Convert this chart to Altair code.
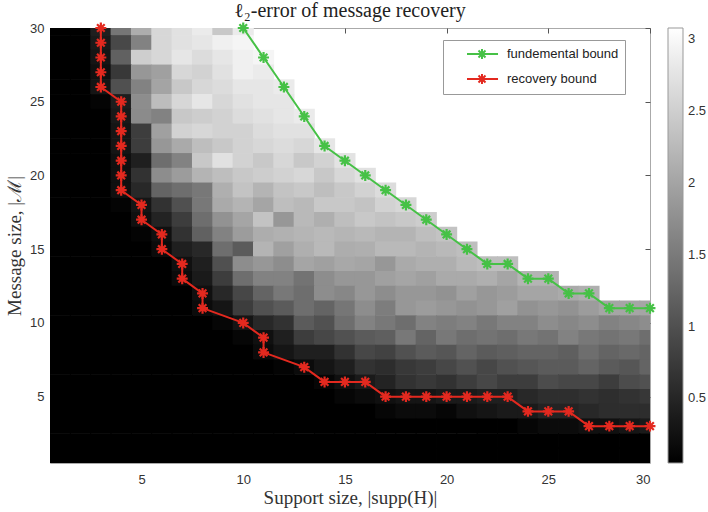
import altair as alt
import pandas as pd

# ---------------- data ----------------
support_size = list(range(1, 31))      # x: |supp(H)|
message_size = list(range(30, 0, -1))  # rows listed from top (30) to bottom (1)

K = 0.05   # black cells
N = None   # cells above the fundamental bound (blank / white)

err_rows = [
    [K, K, 0.42, 1.45, 2.1, 2.61, 2.72, 2.84, 2.43, 2.84] + [N] * 20,                       # 30
    [K, K, 0.36, 0.9, 1.6, 2.61, 2.72, 2.78, 2.9, 2.96] + [N] * 20,                         # 29
    [K, K, 0.3, 1.2, 2.5, 2.6, 2.78, 2.66, 2.78, 2.9, 2.96] + [N] * 19,                     # 28
    [K, K, 0.24, 0.71, 1.84, 1.95, 2.6, 2.55, 2.72, 2.9, 2.84] + [N] * 19,                  # 27
    [K, K, 0.3, 1.0, 1.6, 2.0, 2.43, 2.6, 2.66, 2.78, 2.78, 2.84] + [N] * 18,               # 26
    [K, K, 0.1, 0.4, 1.72, 2.3, 2.6, 2.78, 2.6, 2.72, 2.78, 2.78] + [N] * 18,               # 25
    [K, K, K, 0.35, 1.7, 1.6, 2.43, 2.49, 2.55, 2.66, 2.72, 2.78, 2.84] + [N] * 17,         # 24
    [K, K, K, 0.3, 0.77, 1.95, 2.55, 2.6, 2.55, 2.55, 2.66, 2.72, 2.72] + [N] * 17,         # 23
    [K, K, K, 0.3, 0.77, 1.84, 2.07, 2.31, 2.43, 2.55, 2.6, 2.66, 2.6, 2.78] + [N] * 16,    # 22
    [K, K, K, 0.24, 0.42, 1.36, 1.6, 2.43, 2.72, 2.55, 2.43, 2.6, 2.43, 2.55, 2.75] + [N] * 15,  # 21
    [K, K, K, 0.24, 0.65, 1.72, 1.9, 2.19, 2.31, 2.43, 2.49, 2.55, 2.6, 2.43, 2.6, 2.72] + [N] * 14,  # 20
    [K, K, K, 0.24, 0.53, 1.24, 1.36, 1.48, 2.13, 2.37, 2.19, 2.37, 2.43, 2.31, 2.43, 2.55, 2.66] + [N] * 13,  # 19
    [K, K, K, 0.1, 0.3, 0.65, 1.0, 1.48, 2.07, 2.19, 2.01, 2.31, 2.25, 2.43, 2.43, 2.37, 2.55, 2.6] + [N] * 12,  # 18
    [K, K, K, K, 0.24, 0.47, 0.77, 1.36, 1.78, 2.01, 2.37, 1.84, 2.25, 2.13, 2.31, 2.43, 2.37, 2.43, 2.49] + [N] * 11,  # 17
    [K, K, K, K, 0.1, 0.24, 0.65, 1.2, 1.6, 1.9, 2.1, 2.15, 2.2, 2.25, 2.2, 2.25, 2.19, 2.19, 2.31, 2.37] + [N] * 10,  # 16
    [K] * 5 + [0.18, 0.42, 0.53, 1.36, 1.13, 2.19, 1.95, 2.13, 2.25, 2.1, 2.13, 2.25, 2.25, 2.19, 2.25, 2.31] + [N] * 9,  # 15
    [K] * 6 + [0.24, 0.42, 1.0, 1.72, 1.84, 1.72, 2.01, 1.95, 2.05, 2.01, 1.84, 2.07, 2.13, 2.13, 2.25, 2.31, 2.31] + [N] * 7,  # 14
    [K] * 6 + [0.18, 0.36, 0.77, 1.36, 1.6, 1.6, 1.42, 1.72, 1.85, 1.84, 1.95, 2.01, 1.95, 2.07, 2.07, 2.13, 2.01, 2.19, 2.19] + [N] * 5,  # 13
    [K] * 7 + [0.24, 0.53, 0.89, 1.24, 1.48, 1.36, 1.72, 1.65, 1.84, 1.72, 1.84, 1.84, 1.78, 1.95, 1.84, 1.9, 2.01, 2.01, 2.07, 2.13] + [N] * 3,  # 12
    [K] * 7 + [0.18, 0.3, 0.77, 1.01, 1.13, 1.36, 1.24, 1.45, 1.72, 1.54, 1.84, 1.9, 1.84, 1.78, 1.84, 1.95, 1.78, 1.84, 1.78, 1.9, 2.01, 2.01, 2.01],  # 11
    [K] * 8 + [0.12, 0.3, 0.53, 0.65, 1.13, 1.01, 1.36, 1.6, 1.48, 1.36, 1.6, 1.54, 1.6, 1.48, 1.6, 1.6, 1.72, 1.66, 1.72, 1.6, 1.66, 1.72],  # 10
    [K] * 9 + [0.12, 0.24, 0.42, 0.77, 0.89, 1.01, 1.13, 1.18, 1.48, 1.24, 1.48, 1.36, 1.42, 1.36, 1.48, 1.42, 1.6, 1.48, 1.42, 1.48, 1.36],  # 9
    [K] * 10 + [0.18, 0.3, 0.42, 0.42, 0.65, 0.89, 0.83, 1.01, 1.13, 1.07, 1.24, 1.13, 1.18, 1.24, 1.24, 1.18, 1.36, 1.24, 1.3, 1.24],  # 8
    [K] * 11 + [0.1, 0.18, 0.3, 0.42, 0.65, 0.59, 0.71, 0.77, 0.89, 1.01, 0.89, 1.01, 1.07, 1.13, 1.13, 1.24, 1.13, 1.07, 1.24],  # 7
    [K] * 13 + [0.12, 0.24, 0.36, 0.47, 0.65, 0.71, 0.65, 0.77, 0.89, 0.77, 0.77, 0.95, 0.89, 0.89, 0.77, 0.95, 1.01],  # 6
    [K] * 14 + [0.12, 0.18, 0.24, 0.3, 0.3, 0.36, 0.36, 0.42, 0.42, 0.53, 0.6, 0.6, 0.65, 0.6, 0.65, 0.7],  # 5
    [K] * 16 + [0.12, 0.18, 0.18, 0.12, 0.24, 0.3, 0.36, 0.36, 0.47, 0.47, 0.53, 0.59, 0.59, 0.59],  # 4
    [K] * 23 + [0.12, 0.18, 0.18, 0.24, 0.24, 0.3, 0.36],  # 3
    [K] * 30,  # 2
    [K] * 30,  # 1
]

fund_x = [10, 11, 12, 13, 14, 15, 16, 17, 18, 19, 20, 21, 22, 23, 24, 25, 26, 27, 28, 29, 30]
fund_y = [30, 28, 26, 24, 22, 21, 20, 19, 18, 17, 16, 15, 14, 14, 13, 13, 12, 12, 11, 11, 11]

rec_x = [3, 3, 3, 3, 3, 4, 4, 4, 4, 4, 4, 4, 5, 5, 6, 6, 7, 7, 8, 8, 10, 11, 11, 13, 14, 15, 16,
         17, 18, 19, 20, 21, 22, 23, 24, 25, 26, 27, 28, 29, 30]
rec_y = [30, 29, 28, 27, 26, 25, 24, 23, 22, 21, 20, 19, 18, 17, 16, 15, 14, 13, 12, 11, 10, 9, 8, 7, 6, 6, 6,
         5, 5, 5, 5, 5, 5, 5, 4, 4, 4, 3, 3, 3, 3]

series_names = ["fundemental bound", "recovery bound"]
series_colors = ["#46c146", "#e3291f"]

colorbar_ticks = [0.5, 1, 1.5, 2, 2.5, 3]

# ---------------- tables ----------------
heat_records = []
for yv, row in zip(message_size, err_rows):
    assert len(row) == 30
    for xv, v in zip(support_size, row):
        if v is not None:
            heat_records.append({"sx": xv, "my": yv, "err": v})
heat_df = pd.DataFrame(heat_records)

bound_records = []
for i, (a, b) in enumerate(zip(fund_x, fund_y)):
    bound_records.append({"sx": a, "my": b, "series": series_names[0], "ord": i})
for i, (a, b) in enumerate(zip(rec_x, rec_y)):
    bound_records.append({"sx": a, "my": b, "series": series_names[1], "ord": i})
bound_df = pd.DataFrame(bound_records)

# ---------------- chart ----------------
xscale = alt.Scale(domain=[0.5, 30], nice=False, zero=False)
yscale = alt.Scale(domain=[0.5, 30], nice=False, zero=False)
ticks5 = [5, 10, 15, 20, 25, 30]
cscale = alt.Scale(domain=[0.05, 3.08], range=["#000000", "#ffffff"], interpolate="rgb", clamp=True)

# cells are drawn a hair wider than one unit so neighbours overlap (no seams)
heat = alt.Chart(heat_df).transform_calculate(
    x0="datum.sx - 0.52", x1="datum.sx + 0.52", y0="datum.my - 0.52", y1="datum.my + 0.52"
).mark_rect(clip=True).encode(
    x=alt.X("x0:Q", scale=xscale,
            axis=alt.Axis(orient="bottom", values=ticks5, grid=False, domain=False, ticks=False,
                          labelPadding=10, labelFont="Liberation Sans", labelFontSize=13,
                          labelColor="#333", title="Support size, |supp(H)|",
                          titleFont="Liberation Serif", titleFontSize=19, titleFontWeight="normal",
                          titleColor="#333", titlePadding=2)),
    x2="x1:Q",
    y=alt.Y("y0:Q", scale=yscale,
            axis=alt.Axis(orient="left", values=ticks5, grid=False, domain=False, ticks=False,
                          labelPadding=6, labelFont="Liberation Sans", labelFontSize=13,
                          labelColor="#333", title="Message size, |ℳ|",
                          titleFont="Liberation Serif", titleFontSize=19, titleFontWeight="normal",
                          titleColor="#333", titlePadding=5)),
    y2="y1:Q",
    color=alt.Color("err:Q", scale=cscale,
                    legend=alt.Legend(title=None, orient="right", offset=14, padding=0,
                                      type="gradient", format="~g",
                                      direction="vertical", gradientLength=435, gradientThickness=15,
                                      gradientStrokeColor="#999", gradientStrokeWidth=1,
                                      values=colorbar_ticks, labelFont="Liberation Sans",
                                      labelFontSize=13, labelColor="#333", labelOffset=5)),
)

ASTER = "M0,-1L0,1M-1,0L1,0M-0.7,-0.7L0.7,0.7M-0.7,0.7L0.7,-0.7"
LEG_SYM = ("M1.43,0L5.86,0M3.57,-0.71L3.57,0.71M2.86,0L4.28,0"
           "M3.07,-0.5L4.07,0.5M3.07,0.5L4.07,-0.5")

bounds = alt.Chart(bound_df).mark_line(
    strokeWidth=2, clip=False,
    point=alt.OverlayMarkDef(shape=ASTER, size=120, filled=False, strokeWidth=2.2),
).encode(
    x=alt.X("sx:Q", scale=xscale,
            axis=alt.Axis(orient="top", values=ticks5, labels=False, domain=False, grid=False,
                          ticks=True, tickSize=5, offset=-5, tickColor="#555", title=None)),
    y=alt.Y("my:Q", scale=yscale,
            axis=alt.Axis(orient="right", values=ticks5, labels=False, domain=False, grid=False,
                          ticks=True, tickSize=5, offset=-5, tickColor="#555", title=None)),
    order="ord:Q",
    color=alt.Color("series:N", scale=alt.Scale(domain=series_names, range=series_colors),
                    legend=alt.Legend(title=None, orient="none", legendX=393, legendY=12,
                                      padding=6, strokeColor="#999", fillColor="#ffffff",
                                      symbolType=LEG_SYM, symbolSize=196, symbolStrokeWidth=2,
                                      symbolFillColor="transparent", rowPadding=7,
                                      labelOffset=42, labelFont="Liberation Sans",
                                      labelFontSize=13, labelColor="#222")),
    detail="series:N",
)

chart = alt.layer(heat, bounds).resolve_scale(
    color="independent"
).resolve_axis(
    x="independent", y="independent"
).resolve_legend(
    color="independent"
).properties(
    width=600, height=435,
    title=alt.TitleParams("ℓ₂-error of message recovery", font="Liberation Serif", fontSize=20,
                          fontWeight="normal", color="#222", offset=-3, anchor="middle",
                          frame="group"),
    autosize=alt.AutoSizeParams(type="none"),
    padding={"left": 50, "top": 28, "right": 58, "bottom": 49},
).configure_view(
    stroke="#aaaaaa", strokeWidth=1
).configure_legend(
    gradientVerticalMaxLength=500
)

chart.save("out.html", embed_options={"renderer": "svg", "actions": False})
